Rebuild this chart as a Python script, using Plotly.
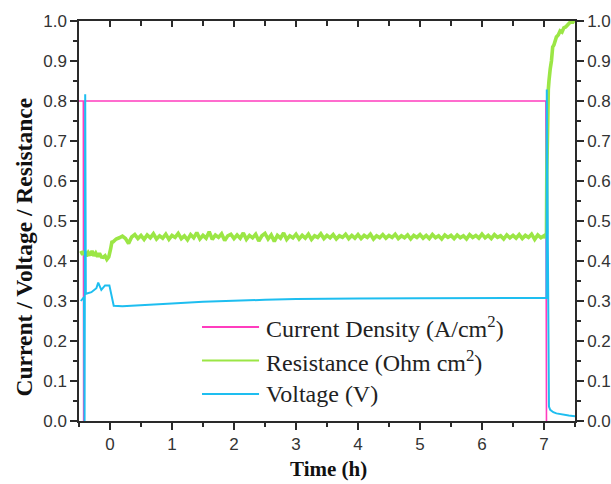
import numpy as np
import plotly.graph_objects as go

# ---------------- data ----------------
# Current density (A/cm2)
cur_t = [-0.50, -0.43, -0.425, -0.42, 7.03, 7.04]
cur_v = [0.80, 0.80, 0.00, 0.80, 0.80, 0.00]

# Voltage (V)
volt_t = [-0.47, -0.44, -0.42, -0.41, -0.40, -0.39, -0.30, -0.22, -0.19, -0.14, -0.08,
          -0.01, 0.06, 0.20, 0.50, 1.00, 1.50, 2.00, 2.50, 3.00, 3.50, 4.00, 5.00,
          6.00, 7.00, 7.04, 7.045, 7.055, 7.07, 7.08, 7.10, 7.15, 7.20, 7.30, 7.40, 7.50]
volt_v = [0.300, 0.305, 0.310, 0.000, 0.817, 0.318, 0.322, 0.332, 0.346, 0.328, 0.339,
          0.339, 0.288, 0.287, 0.289, 0.294, 0.298, 0.301, 0.303, 0.305, 0.306, 0.306, 0.307,
          0.308, 0.308, 0.308, 0.829, 0.500, 0.050, 0.036, 0.028, 0.022, 0.019, 0.016, 0.014, 0.012]

# Resistance (Ohm cm2): start-up segment
res_start_t = [-0.47, -0.44, -0.41, -0.38, -0.35, -0.32, -0.29, -0.26, -0.23, -0.20,
               -0.17, -0.14, -0.11, -0.08, -0.05, -0.02, 0.01, 0.03]
res_start_v = [0.425, 0.416, 0.424, 0.412, 0.421, 0.414, 0.425, 0.413, 0.420, 0.411,
               0.419, 0.410, 0.409, 0.413, 0.404, 0.410, 0.430, 0.447]
# Resistance: steady segment, sampled every 0.05 h from 0.05 h to 7.00 h
res_mid_v = [
    0.448, 0.455, 0.458, 0.462, 0.456, 0.444, 0.460, 0.466, 0.456, 0.464,
    0.454, 0.465, 0.458, 0.468, 0.455, 0.463, 0.457, 0.467, 0.454, 0.464,
    0.459, 0.469, 0.456, 0.463, 0.453, 0.466, 0.458, 0.471, 0.455, 0.464,
    0.457, 0.473, 0.454, 0.465, 0.459, 0.468, 0.451, 0.463, 0.467, 0.456,
    0.465, 0.457, 0.470, 0.454, 0.464, 0.458, 0.467, 0.450, 0.463, 0.469,
    0.455, 0.465, 0.449, 0.464, 0.457, 0.470, 0.454, 0.463, 0.458, 0.467,
    0.455, 0.464, 0.457, 0.467, 0.454, 0.463, 0.459, 0.468, 0.456, 0.464,
    0.458, 0.466, 0.455, 0.463, 0.459, 0.467, 0.456, 0.464, 0.457, 0.466,
    0.456, 0.464, 0.459, 0.467, 0.455, 0.463, 0.458, 0.466, 0.457, 0.464,
    0.459, 0.467, 0.456, 0.463, 0.458, 0.465, 0.455, 0.464, 0.459, 0.466,
    0.457, 0.464, 0.456, 0.466, 0.458, 0.463, 0.455, 0.465, 0.459, 0.464,
    0.456, 0.465, 0.458, 0.463, 0.455, 0.466, 0.459, 0.464, 0.457, 0.467,
    0.458, 0.464, 0.456, 0.466, 0.459, 0.463, 0.455, 0.465, 0.458, 0.464,
    0.457, 0.466, 0.456, 0.464, 0.459, 0.467, 0.454, 0.465, 0.458, 0.463,
]
res_mid_t = list(np.round(np.arange(1, len(res_mid_v) + 1) * 0.05, 3))
# Resistance: end segment
res_end_t = [7.02, 7.04, 7.045, 7.05, 7.06, 7.07, 7.08, 7.09, 7.10, 7.12, 7.14, 7.16,
             7.18, 7.20, 7.23, 7.26, 7.29, 7.32, 7.35, 7.38, 7.41, 7.44, 7.47, 7.50]
res_end_v = [0.458, 0.470, 0.620, 0.720, 0.780, 0.830, 0.850, 0.875, 0.880, 0.900, 0.935, 0.940,
             0.955, 0.960, 0.965, 0.975, 0.972, 0.983, 0.985, 0.990, 0.993, 1.000, 0.998, 1.005]

res_t = res_start_t + res_mid_t + res_end_t
res_v = res_start_v + res_mid_v + res_end_v

x_ticks = [0, 1, 2, 3, 4, 5, 6, 7]
y_ticks = [0.0, 0.1, 0.2, 0.3, 0.4, 0.5, 0.6, 0.7, 0.8, 0.9, 1.0]

legend_labels = ["Current Density (A/cm<sup>2</sup>)",
                 "Resistance (Ohm cm<sup>2</sup>)",
                 "Voltage (V)"]

# ---------------- styling ----------------
C_CUR = "#ff3cbe"
C_RES = "#9be645"
C_VOLT = "#1ebef0"
AX = "#2a2a2a"
TICKFONT = dict(family="Liberation Sans, Arial", size=17, color="#333333")
SERIF = "Liberation Serif, Times New Roman"

fig = go.Figure()
fig.add_trace(go.Scatter(x=cur_t, y=cur_v, mode="lines",
                         line=dict(color=C_CUR, width=1.6), name="Current"))
fig.add_trace(go.Scatter(x=res_t, y=res_v, mode="lines",
                         line=dict(color=C_RES, width=3.6), name="Resistance"))
fig.add_trace(go.Scatter(x=volt_t, y=volt_v, mode="lines",
                         line=dict(color=C_VOLT, width=2), name="Voltage"))
# invisible copies so the mirrored top / right axes are drawn
fig.add_trace(go.Scatter(x=cur_t, y=cur_v, mode="lines", xaxis="x2", yaxis="y",
                         line=dict(width=0), opacity=0, hoverinfo="skip", showlegend=False))
fig.add_trace(go.Scatter(x=cur_t, y=cur_v, mode="lines", xaxis="x", yaxis="y2",
                         line=dict(width=0), opacity=0, hoverinfo="skip", showlegend=False))

common_x = dict(range=[-0.5, 7.5], tickvals=x_ticks, showgrid=False, zeroline=False,
                automargin=False,
                showline=True, linecolor=AX, linewidth=1.5, tickcolor=AX, tickwidth=1.5)
common_y = dict(range=[0, 1], tickvals=y_ticks, showgrid=False, zeroline=False,
                automargin=False,
                showline=True, linecolor=AX, linewidth=1.5, tickcolor=AX, tickwidth=1.5)

fig.update_layout(
    width=611, height=484,
    margin=dict(l=79, r=36, t=21, b=63),
    plot_bgcolor="white", paper_bgcolor="white",
    showlegend=False,
    xaxis=dict(**common_x, ticks="outside", ticklen=7, tickfont=TICKFONT,
               ticktext=[str(v) for v in x_ticks],
               minor=dict(dtick=0.5, tick0=0, ticks="outside", ticklen=4,
                          tickcolor=AX, tickwidth=1.5)),
    xaxis2=dict(**common_x, overlaying="x", side="top", anchor="y",
                ticks="inside", ticklen=6, showticklabels=False,
                minor=dict(dtick=0.5, tick0=0, ticks="inside", ticklen=5,
                           tickcolor=AX, tickwidth=1.5)),
    yaxis=dict(**common_y, ticks="outside", ticklen=7, tickfont=TICKFONT,
               tickformat=".1f",
               minor=dict(dtick=0.05, tick0=0, ticks="outside", ticklen=4,
                          tickcolor=AX, tickwidth=1.5)),
    yaxis2=dict(**common_y, overlaying="y", side="right", anchor="x",
                ticks="outside", ticklen=7, tickfont=TICKFONT, tickformat=".1f",
                showticklabels=True,
                minor=dict(dtick=0.05, tick0=0, ticks="outside", ticklen=4,
                           tickcolor=AX, tickwidth=1.5)),
)

# axis titles
fig.add_annotation(text="<b>Time (h)</b>", xref="paper", yref="paper",
                   x=0.503, y=-0.12, xanchor="center", yanchor="middle",
                   showarrow=False, font=dict(family=SERIF, size=21, color="#111111"))
fig.add_annotation(text="<b>Current / Voltage / Resistance</b>", xref="paper", yref="paper",
                   x=-0.11, y=0.435, xanchor="center", yanchor="middle", textangle=-90,
                   showarrow=False, font=dict(family=SERIF, size=23.5, color="#111111"))

# custom legend (line sample + text)
leg_colors = [C_CUR, C_RES, C_VOLT]
leg_y = [0.235, 0.151, 0.0675]
for lab, col, yy in zip(legend_labels, leg_colors, leg_y):
    fig.add_shape(type="line", xref="paper", yref="paper",
                  x0=0.248, x1=0.363, y0=yy, y1=yy,
                  line=dict(color=col, width=2))
    fig.add_annotation(text=lab, xref="paper", yref="paper", x=0.372, y=yy,
                       xanchor="left", yanchor="middle", showarrow=False,
                       font=dict(family=SERIF, size=24, color="#222222"))

fig.write_html("out.html")
